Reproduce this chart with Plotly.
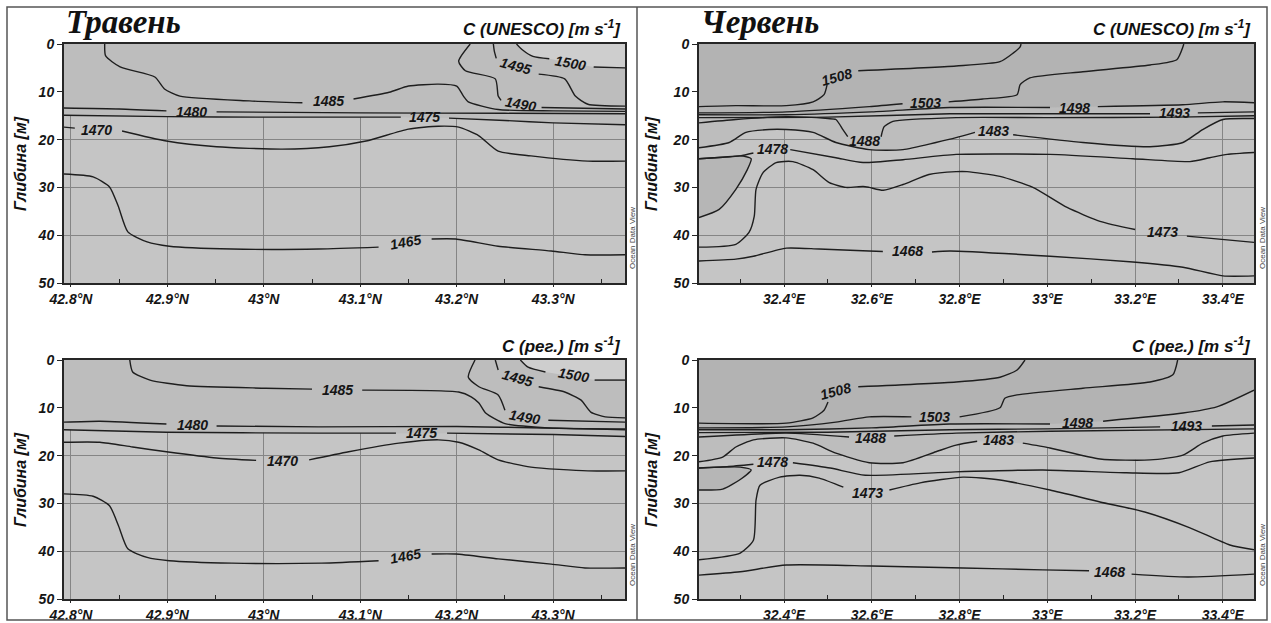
import plotly.graph_objects as go

N = None

# ---------------- axis data ----------------
MAY_LAT_RANGE = [42.7928, 43.3745]
JUN_LON_RANGE = [32.206, 33.471]
DEPTH_RANGE = [50, 0]
DEPTH_TICKS = [0, 10, 20, 30, 40, 50]
MAY_TICKS = [42.8, 42.9, 43.0, 43.1, 43.2, 43.3]
MAY_TICK_TEXT = ["42.8°N", "42.9°N", "43°N", "43.1°N", "43.2°N", "43.3°N"]
MAY_MINOR = [42.85, 42.95, 43.05, 43.15, 43.25, 43.35]
JUN_TICKS = [32.4, 32.6, 32.8, 33.0, 33.2, 33.4]
JUN_TICK_TEXT = ["32.4°E", "32.6°E", "32.8°E", "33°E", "33.2°E", "33.4°E"]
JUN_MINOR = [32.3, 32.5, 32.7, 32.9, 33.1, 33.3]

# ---------------- contour lines (position, depth m) ----------------
MAY_UNESCO = {
    1500: ([43.262, 43.268, 43.279, 43.296, N, 43.342, 43.3745],
           [0, 1.2, 2.6, 3.1, N, 4.8, 5.0]),
    1495: ([43.238, 43.239, 43.241, N, 43.285, 43.312, 43.323, 43.336, 43.3745],
           [0, 1.5, 3.0, N, 6.3, 7.3, 10.9, 12.6, 13.0]),
    1490: ([43.214, 43.202, 43.209, 43.240, 43.243, 43.246, N, 43.288, 43.3745],
           [0, 3.6, 5.6, 7.3, 10.9, 11.8, N, 13.3, 13.6]),
    1485: ([42.835, 42.836, 42.851, 42.887, 42.897, 42.913, 42.985, 43.040, N,
            43.093, 43.130, 43.150, 43.181, 43.200, 43.207, 43.212, 43.243, 43.300, 43.3745],
           [0, 2.5, 4.8, 6.9, 9.4, 10.9, 11.9, 12.3, N,
            11.5, 10.1, 8.8, 8.4, 8.8, 10.9, 12.1, 13.7, 14.0, 14.1]),
    1480: ([42.7928, 42.850, 42.899, N, 42.951, 43.100, 43.250, 43.3745],
           [13.4, 13.6, 14.0, N, 14.2, 14.4, 14.5, 14.6]),
    1475: ([42.7928, 42.900, 43.000, 43.142, N, 43.192, 43.250, 43.300, 43.3745],
           [14.9, 15.2, 15.3, 15.3, N, 15.5, 16.0, 16.5, 16.9]),
    1470: ([42.7928, 42.804, N, 42.853, 42.899, 42.951, 43.019, 43.068, 43.106, 43.150,
            43.181, 43.202, 43.223, 43.243, 43.277, 43.336, 43.3745],
           [17.4, 17.6, N, 18.2, 20.3, 21.5, 22.0, 21.5, 20.3, 17.8,
            17.2, 17.4, 19.2, 22.4, 23.4, 24.5, 24.5]),
    1465: ([42.7928, 42.823, 42.840, 42.849, 42.859, 42.879, 42.902, 42.967, 43.057, 43.119, N,
            43.174, 43.199, 43.243, 43.298, 43.333, 43.3745],
           [27.2, 27.8, 29.9, 33.9, 39.3, 41.4, 42.3, 42.9, 42.9, 42.5, N,
            40.8, 40.8, 42.3, 43.3, 44.1, 44.1]),
}
MAY_UNESCO_LABELS = {  # level: (position, depth, angle)
    1500: (43.318, 3.9, 10), 1495: (43.261, 4.7, 15), 1490: (43.266, 12.6, 10),
    1485: (43.067, 12.0, 0), 1480: (42.925, 14.2, 0), 1475: (43.167, 15.3, 0),
    1470: (42.827, 17.9, 0), 1465: (43.147, 41.4, -10),
}

MAY_REG = {
    1500: ([43.266, 43.274, 43.292, N, 43.343, 43.3745], [0, 1.5, 2.5, N, 4.2, 4.2]),
    1495: ([43.240, 43.243, N, 43.285, 43.312, 43.329, 43.339, 43.354, 43.3745],
           [0, 2.1, N, 5.6, 6.7, 8.4, 10.9, 11.9, 12.1]),
    1490: ([43.219, 43.212, 43.223, 43.243, 43.250, N, 43.295, 43.3745],
           [0, 3.6, 5.6, 7.3, 10.5, N, 12.6, 13.0]),
    1485: ([42.861, 42.864, 42.882, 42.920, 43.002, 43.050, N, 43.102, 43.202, 43.215,
            43.223, 43.230, 43.250, 43.295, 43.3745],
           [0, 2.5, 4.2, 5.4, 5.9, 6.1, N, 6.3, 6.7, 7.7, 9.0, 11.1, 13.3, 14.2, 14.4]),
    1480: ([42.7928, 42.830, 42.899, N, 42.951, 43.057, 43.200, 43.3745],
           [13.0, 12.8, 13.4, N, 13.8, 14.0, 13.9, 14.6]),
    1475: ([42.7928, 42.899, 43.057, 43.137, N, 43.190, 43.300, 43.3745],
           [14.6, 15.1, 15.3, 15.3, N, 15.3, 15.6, 16.0]),
    1470: ([42.7928, 42.830, 42.864, 42.899, 42.951, 42.992, N, 43.047, 43.088, 43.140,
            43.181, 43.202, 43.223, 43.243, 43.277, 43.336, 43.3745],
           [17.2, 17.2, 18.2, 19.2, 20.5, 21.0, N, 20.9, 19.2, 17.4,
            16.7, 17.2, 18.8, 20.9, 22.4, 23.2, 23.2]),
    1465: ([42.7928, 42.823, 42.840, 42.849, 42.859, 42.879, 42.902, 42.967, 43.060, 43.119, N,
            43.174, 43.199, 43.243, 43.298, 43.333, 43.3745],
           [28.0, 28.5, 30.5, 34.5, 39.5, 41.3, 42.0, 42.5, 42.5, 42.0, N,
            40.6, 40.6, 41.6, 42.7, 43.5, 43.5]),
}
MAY_REG_LABELS = {
    1500: (43.321, 3.2, 10), 1495: (43.263, 3.8, 15), 1490: (43.270, 12.0, 10),
    1485: (43.076, 6.3, 0), 1480: (42.926, 13.6, 0), 1475: (43.163, 15.3, 0),
    1470: (43.019, 21.2, 0), 1465: (43.147, 41.0, -10),
}

JUN_UNESCO = {
    1508: ([32.206, 32.290, 32.405, 32.466, 32.491, 32.498, N, 32.569, 32.792, 32.892, 32.922, 32.938, 32.940],
           [13.1, 12.9, 12.9, 12.1, 10.6, 8.5, N, 5.6, 4.6, 3.7, 1.9, 0.6, 0]),
    1503: ([32.206, 32.405, 32.594, 32.670, N, 32.775, 32.853, 32.931, 32.938, 32.960, 33.081, 33.234, 33.295, 33.309, 33.311],
           [14.4, 14.2, 13.1, 12.5, N, 12.1, 11.5, 10.6, 8.5, 7.1, 5.8, 4.4, 3.3, 0.6, 0]),
    1498: ([32.206, 32.405, 32.600, 32.778, 33.006, N, 33.115, 33.309, 33.400, 33.471],
           [14.8, 14.8, 14.2, 13.3, 13.3, N, 13.1, 12.7, 12.1, 12.3]),
    1493: ([32.206, 32.500, 32.778, 33.000, 33.234, N, 33.343, 33.471],
           [15.4, 15.3, 14.6, 14.6, 14.6, N, 14.4, 14.2]),
    1488: ([32.206, 32.290, 32.405, 32.500, 32.518, 32.534, 32.545, N, 32.621, 32.628, 32.648, 32.792, 33.000, 33.300, 33.471],
           [16.5, 15.8, 15.2, 15.6, 15.8, 17.9, 19.4, N, 19.4, 17.3, 16.2, 15.4, 15.4, 15.3, 15.0]),
    1483: ([32.206, 32.275, 32.313, 32.366, 32.405, 32.466, 32.518, 32.594, 32.671, 32.746, 32.792, 32.835, N,
            32.922, 33.081, 33.234, 33.309, 33.354, 33.400, 33.471],
           [21.7, 20.6, 18.5, 17.9, 17.9, 18.5, 20.6, 22.1, 22.1, 20.6, 19.6, 18.5, N,
            19.0, 20.6, 21.5, 20.6, 17.9, 15.8, 15.6]),
    1478: ([32.206, 32.260, 32.300, 32.330, N, 32.414, 32.518, 32.580, 32.671, 32.792, 33.006, 33.195, 33.325, 33.370, 33.410, 33.471],
           [24.0, 23.7, 23.4, 22.8, N, 22.1, 23.8, 24.8, 24.2, 23.1, 23.1, 24.0, 24.6, 23.8, 23.1, 22.7]),
    1473: ([32.206, 32.290, 32.320, 32.332, 32.336, 32.352, 32.382, 32.420, 32.466, 32.503, 32.541, 32.580, 32.594,
            32.626, 32.671, 32.730, 32.792, 32.817, 32.892, 32.967, 33.045, 33.120, 33.200, N, 33.318, 33.471],
           [42.5, 41.9, 39.4, 36.0, 30.4, 26.9, 24.8, 24.6, 26.3, 29.0, 30.0, 29.8, 30.0,
            30.6, 29.4, 27.3, 26.7, 26.7, 27.7, 30.0, 34.2, 37.1, 38.8, N, 40.2, 41.5]),
    1468: ([32.206, 32.290, 32.330, 32.405, 32.480, 32.594, 32.625, N, 32.737, 32.778, 33.006, 33.195, 33.309, 33.400, 33.471],
           [45.4, 45.0, 44.4, 42.7, 42.9, 43.3, 43.4, N, 43.5, 43.3, 44.4, 45.6, 46.7, 48.5, 48.5]),
}
JUN_UNESCO_LOOP = ([32.206, 32.252, 32.290, 32.315, 32.325, 32.300, 32.260, 32.206],
                   [36.3, 34.6, 30.4, 26.5, 24.0, 23.4, 23.7, 24.0])
JUN_UNESCO_LABELS = {
    1508: (32.520, 6.8, -15), 1503: (32.723, 12.4, 0), 1498: (33.062, 13.3, 0),
    1493: (33.289, 14.5, 0), 1488: (32.583, 20.3, 0), 1483: (32.877, 18.3, 0),
    1478: (32.374, 22.0, 0), 1473: (33.262, 39.3, 0), 1468: (32.681, 43.3, 0),
}

JUN_REG = {
    1508: ([32.206, 32.405, 32.466, 32.491, 32.500, N, 32.569, 32.792, 32.892, 32.931, 32.949],
           [13.2, 13.2, 12.1, 10.5, 8.8, N, 5.6, 4.6, 3.6, 2.1, 0]),
    1503: ([32.206, 32.405, 32.518, 32.594, 32.690, N, 32.800, 32.892, 32.903, 32.931, 33.081, 33.234, 33.286, 33.297],
           [14.2, 14.0, 13.0, 11.9, 11.9, N, 11.9, 10.0, 8.0, 7.3, 5.9, 4.6, 3.1, 0]),
    1498: ([32.206, 32.405, 32.600, 32.778, 33.006, N, 33.127, 33.309, 33.386, 33.471],
           [14.6, 14.6, 14.2, 13.4, 13.4, N, 12.8, 11.1, 9.8, 6.3]),
    1493: ([32.206, 32.500, 32.778, 33.000, 33.257, N, 33.375, 33.471],
           [15.2, 15.1, 14.6, 14.4, 14.0, N, 13.8, 13.6]),
    1488: ([32.206, 32.405, 32.548, N, 32.651, 32.792, 33.006, 33.471],
           [16.1, 15.3, 16.1, N, 15.9, 15.3, 14.9, 14.4]),
    1483: ([32.206, 32.260, 32.290, 32.330, 32.405, 32.466, 32.518, 32.594, 32.671, 32.746, 32.792, 32.840, N,
            32.944, 33.006, 33.120, 33.234, 33.309, 33.354, 33.400, 33.471],
           [21.3, 20.3, 18.2, 16.7, 16.3, 17.4, 19.5, 21.5, 21.5, 19.2, 17.8, 17.0, N,
            17.4, 18.4, 20.7, 20.9, 19.9, 17.4, 15.9, 15.3]),
    1478: ([32.206, 32.270, 32.330, N, 32.420, 32.505, 32.585, 32.790, 32.990, 33.180, 33.300, 33.370, 33.471],
           [22.6, 22.3, 21.8, N, 21.5, 22.6, 24.1, 23.4, 23.0, 23.6, 23.6, 21.3, 20.5]),
    1473: ([32.206, 32.300, 32.330, 32.336, 32.345, 32.390, 32.436, 32.480, 32.535, N,
            32.640, 32.710, 32.808, 32.892, 33.006, 33.120, 33.222, 33.325, 33.416, 33.471],
           [41.8, 40.4, 37.7, 29.3, 26.2, 24.5, 24.1, 24.7, 26.6, N,
            27.2, 25.7, 24.5, 25.1, 27.2, 29.7, 31.8, 35.1, 38.7, 39.7]),
    1468: ([32.206, 32.300, 32.405, 32.600, 32.808, 32.990, 33.095, N, 33.192, 33.320, 33.471],
           [45.0, 44.3, 42.9, 43.1, 43.5, 43.9, 44.1, N, 44.8, 45.4, 44.8]),
}
JUN_REG_LOOP = ([32.206, 32.260, 32.300, 32.325, 32.300, 32.260, 32.206],
                [27.2, 27.0, 25.0, 23.0, 22.4, 22.4, 22.6])
JUN_REG_LABELS = {
    1508: (32.518, 6.5, -15), 1503: (32.743, 11.9, 0), 1498: (33.068, 13.2, 0),
    1493: (33.318, 13.9, 0), 1488: (32.597, 16.3, 0), 1483: (32.888, 16.8, 0),
    1478: (32.374, 21.4, 0), 1473: (32.590, 27.8, 0), 1468: (33.142, 44.4, 0),
}

# ---------------- figure geometry (page pixels -> paper) ----------------
W, H = 1271, 623


def px(xp):
    return xp / W


def py(yp):
    return 1 - yp / H


LEFT_X = [px(64), px(625)]
RIGHT_X = [px(699), px(1254)]
TOP_Y = [py(283), py(44)]
BOT_Y = [py(599), py(360)]

LINE_COLOR = "#1e1e1e"
PLOT_BG = "#c5c5c5"
TICK_FONT = dict(family="Liberation Sans", size=14, color="#151515", weight="bold", style="italic")
LABEL_FONT = dict(family="Liberation Sans", size=14, color="#151515", weight="bold", style="italic")

fig = go.Figure()

panels = [
    ("x", "y", MAY_UNESCO, MAY_UNESCO_LABELS, None, 1475, 1500),
    ("x2", "y2", JUN_UNESCO, JUN_UNESCO_LABELS, JUN_UNESCO_LOOP, 1483, 1498),
    ("x3", "y3", MAY_REG, MAY_REG_LABELS, None, 1475, 1500),
    ("x4", "y4", JUN_REG, JUN_REG_LABELS, JUN_REG_LOOP, 1483, 1498),
]


def clean(seq):
    return [v for v in seq if v is not None]


for xa, ya, contours, labels, loop, mid_level, top_level in panels:
    # grey shading bands
    mx, my = clean(contours[mid_level][0]), clean(contours[mid_level][1])
    fig.add_trace(go.Scatter(x=mx + [mx[-1], mx[0]], y=my + [0, 0], fill="toself",
                             fillcolor="#bdbdbd", mode="none", xaxis=xa, yaxis=ya,
                             hoverinfo="skip", showlegend=False))
    tx, ty = clean(contours[top_level][0]), clean(contours[top_level][1])
    if xa in ("x2", "x4"):
        fig.add_trace(go.Scatter(x=tx + [tx[-1], tx[0]], y=ty + [0, 0], fill="toself",
                                 fillcolor="#b3b3b3", mode="none", xaxis=xa, yaxis=ya,
                                 hoverinfo="skip", showlegend=False))
    else:
        fig.add_trace(go.Scatter(x=tx + [tx[-1]], y=ty + [0], fill="toself",
                                 fillcolor="#cecece", mode="none", xaxis=xa, yaxis=ya,
                                 hoverinfo="skip", showlegend=False))
    if loop is not None:
        fig.add_trace(go.Scatter(x=loop[0], y=loop[1], fill="toself", fillcolor="#b6b6b6",
                                 mode="lines", line=dict(color=LINE_COLOR, width=1.4, shape="spline", smoothing=0.6),
                                 xaxis=xa, yaxis=ya, hoverinfo="skip", showlegend=False))
    for level, (xs, ds) in contours.items():
        fig.add_trace(go.Scatter(x=xs, y=ds, mode="lines", connectgaps=False,
                                 line=dict(color=LINE_COLOR, width=1.4, shape="spline", smoothing=0.6),
                                 xaxis=xa, yaxis=ya, hoverinfo="skip", showlegend=False))
    for level, (lx, ld, ang) in labels.items():
        fig.add_annotation(x=lx, y=ld, xref=xa, yref=ya, text=str(level), showarrow=False,
                           textangle=ang, font=LABEL_FONT)

axis_common = dict(showline=True, linecolor="#262626", linewidth=2, mirror=True,
                   showgrid=True, gridcolor="#858585", gridwidth=1, zeroline=False,
                   tickcolor="#262626", tickfont=TICK_FONT, automargin=False)

layout = dict(
    width=W, height=H, autosize=False,
    margin=dict(l=0, r=0, t=0, b=0, autoexpand=False),
    paper_bgcolor="white", plot_bgcolor=PLOT_BG,
    showlegend=False,
)
for i, (xd, yd, xr, tv, tt, mn) in enumerate([
        (LEFT_X, TOP_Y, MAY_LAT_RANGE, MAY_TICKS, MAY_TICK_TEXT, MAY_MINOR),
        (RIGHT_X, TOP_Y, JUN_LON_RANGE, JUN_TICKS, JUN_TICK_TEXT, JUN_MINOR),
        (LEFT_X, BOT_Y, MAY_LAT_RANGE, MAY_TICKS, MAY_TICK_TEXT, MAY_MINOR),
        (RIGHT_X, BOT_Y, JUN_LON_RANGE, JUN_TICKS, JUN_TICK_TEXT, JUN_MINOR)], start=1):
    sfx = "" if i == 1 else str(i)
    layout["xaxis" + sfx] = dict(axis_common, domain=xd, range=xr, tickvals=tv, ticktext=tt,
                                 anchor="y" + sfx, ticks="outside", ticklen=2,
                                 minor=dict(tickvals=mn, ticks="inside", ticklen=4,
                                            tickcolor="#262626", showgrid=False))
    layout["yaxis" + sfx] = dict(axis_common, domain=yd, range=DEPTH_RANGE, tickvals=DEPTH_TICKS,
                                 anchor="x" + sfx, ticks="outside", ticklen=5)
fig.update_layout(**layout)

TITLE_FONT = dict(family="Liberation Serif", size=33, color="#111111", weight="bold", style="italic")
HEAD_FONT = dict(family="Liberation Sans", size=17, color="#111111", weight="bold", style="italic")
YT_FONT = dict(family="Liberation Sans", size=16, color="#111111", weight="bold", style="italic")
ODV_FONT = dict(family="Liberation Sans", size=8, color="#444444")

fig.add_annotation(text="Травень", x=px(64), y=py(22), xref="paper", yref="paper",
                   xanchor="left", yanchor="middle", showarrow=False, font=TITLE_FONT)
fig.add_annotation(text="Червень", x=px(699), y=py(22), xref="paper", yref="paper",
                   xanchor="left", yanchor="middle", showarrow=False, font=TITLE_FONT)
for xr_px, yc in [(623, 28), (1253, 28)]:
    fig.add_annotation(text="C (UNESCO) [m s<sup>-1</sup>]", x=px(xr_px), y=py(yc),
                       xref="paper", yref="paper", xanchor="right", yanchor="middle",
                       showarrow=False, font=HEAD_FONT)
for xr_px, yc in [(623, 345), (1253, 345)]:
    fig.add_annotation(text="C (рег.) [m s<sup>-1</sup>]", x=px(xr_px), y=py(yc),
                       xref="paper", yref="paper", xanchor="right", yanchor="middle",
                       showarrow=False, font=HEAD_FONT)
for xc, yc in [(20, 164), (651, 164), (20, 480), (651, 480)]:
    fig.add_annotation(text="Глибина [м]", x=px(xc), y=py(yc), xref="paper", yref="paper",
                       xanchor="center", yanchor="middle", textangle=-90, showarrow=False,
                       font=YT_FONT)
for xc, yc in [(632, 238), (1262, 238), (632, 555), (1262, 555)]:
    fig.add_annotation(text="Ocean Data View", x=px(xc), y=py(yc), xref="paper", yref="paper",
                       xanchor="center", yanchor="middle", textangle=-90, showarrow=False,
                       font=ODV_FONT)

# outer frame and panel divider
fig.add_shape(type="rect", xref="paper", yref="paper", x0=px(7), x1=px(1267), y0=py(620), y1=py(7),
              line=dict(color="#555555", width=1.5))
fig.add_shape(type="line", xref="paper", yref="paper", x0=px(637), x1=px(637), y0=py(620), y1=py(7),
              line=dict(color="#555555", width=1.5))

# the page body gets no default 8px margin, so the figure fills the 1271x623 window
fig.write_html("out.html", config={"displayModeBar": False},
               post_script="document.body.style.margin='0px';")
